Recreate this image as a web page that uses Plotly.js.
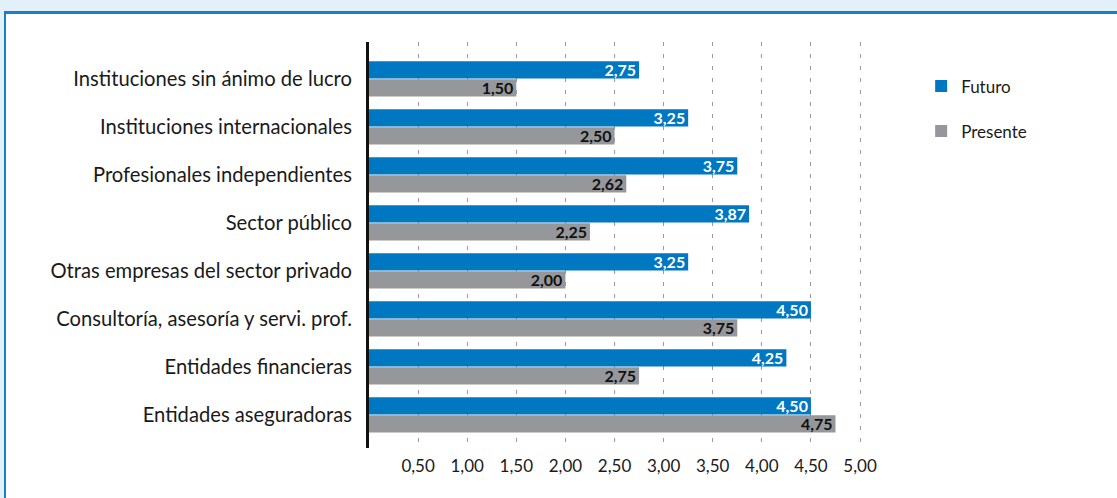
<!DOCTYPE html>
<html>
<head>
<meta charset="utf-8">
<script src="https://cdn.plot.ly/plotly-3.0.1.min.js"></script>
<style>
  html, body { margin: 0; padding: 0; }
  body { width: 1117px; height: 498px; background: #e4f0f9; position: relative; overflow: hidden; }
  #frame { position: absolute; left: 4px; top: 11px; right: 0; bottom: 0; background: #ffffff;
           border-left: 2px solid #1a7fc6; border-top: 3px solid #1a7fc6; }
  #chart { position: absolute; left: 0; top: 0; width: 1117px; height: 498px; }
</style>
</head>
<body>
<div id="frame"></div>
<div id="chart"></div>
<script>
const categories = [
  "Instituciones sin ánimo de lucro",
  "Instituciones internacionales",
  "Profesionales independientes",
  "Sector público",
  "Otras empresas del sector privado",
  "Consultoría, asesoría y servi. prof.",
  "Entidades financieras",
  "Entidades aseguradoras"
];
const futuro   = [2.75, 3.25, 3.75, 3.87, 3.25, 4.50, 4.25, 4.50];
const presente = [1.50, 2.50, 2.62, 2.25, 2.00, 3.75, 2.75, 4.75];
const tickValues = [0.5, 1.0, 1.5, 2.0, 2.5, 3.0, 3.5, 4.0, 4.5, 5.0];
const seriesNames = ["Futuro", "Presente"];

const FONT = "Lato, 'Open Sans', sans-serif";

const traces = [
  {
    type: "bar", orientation: "h", name: seriesNames[0], legendgroup: "a",
    y: categories, x: futuro,
    marker: { color: "#0077c1" },
    texttemplate: "%{x:.2f}", textposition: "inside", insidetextanchor: "end",
    textfont: { color: "#ffffff", size: 16, family: FONT, weight: "bold" },
    hoverinfo: "x+y"
  },
  {
    type: "bar", orientation: "h", name: seriesNames[1], legendgroup: "b",
    y: categories, x: presente,
    marker: { color: "#96979b" },
    texttemplate: "%{x:.2f}", textposition: "inside", insidetextanchor: "end",
    textfont: { color: "#111111", size: 16, family: FONT, weight: "bold" },
    hoverinfo: "x+y"
  }
];

const layout = {
  width: 1117, height: 498,
  margin: { l: 369, r: 255, t: 42, b: 50 },
  paper_bgcolor: "rgba(0,0,0,0)",
  plot_bgcolor: "rgba(0,0,0,0)",
  separators: ",.",
  barmode: "group",
  bargap: 0.25,
  bargroupgap: 0.04,
  uniformtext: { mode: "show", minsize: 16 },
  font: { family: FONT, color: "#1a1a1a" },
  xaxis: {
    range: [0, 5.02],
    tickvals: tickValues,
    tickformat: ".2f",
    showgrid: true,
    gridcolor: "#9a9a9a",
    gridwidth: 1,
    griddash: "4px,8px",
    zeroline: false,
    showline: false,
    ticks: "",
    ticklabelstandoff: 6,
    tickfont: { size: 17, color: "#1a1a1a", family: FONT },
    fixedrange: true
  },
  yaxis: {
    type: "category",
    categoryorder: "array",
    categoryarray: categories,
    range: [7.69, -0.77],
    showline: true,
    linecolor: "#111111",
    linewidth: 3,
    showgrid: false,
    zeroline: false,
    ticks: "",
    ticklabelstandoff: 10,
    tickfont: { size: 20.2, color: "#1a1a1a", family: FONT },
    fixedrange: true
  },
  showlegend: true,
  legend: {
    x: 1.12, xanchor: "left",
    y: 0.935, yanchor: "top",
    traceorder: "grouped",
    tracegroupgap: 20,
    font: { size: 17, color: "#1a1a1a", family: FONT },
    bgcolor: "rgba(0,0,0,0)"
  }
};

Plotly.newPlot("chart", traces, layout, { displayModeBar: false, staticPlot: true });
</script>
</body>
</html>
